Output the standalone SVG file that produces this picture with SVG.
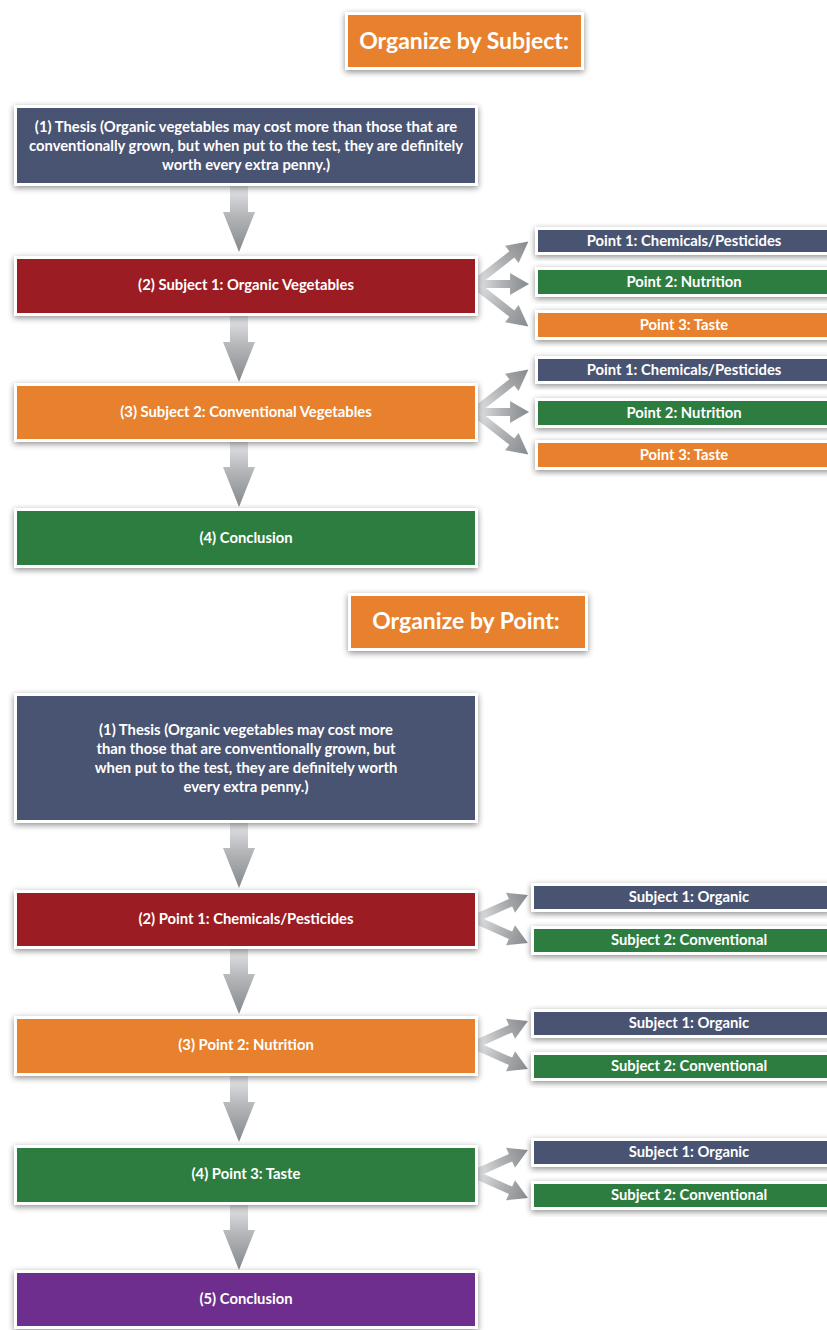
<svg xmlns="http://www.w3.org/2000/svg" width="827" height="1330" viewBox="0 0 827 1330">
<defs>
<filter id="sh" x="-10%" y="-30%" width="120%" height="160%">
<feGaussianBlur in="SourceAlpha" stdDeviation="3"/>
<feOffset dx="0" dy="2" result="b"/>
<feComponentTransfer><feFuncA type="linear" slope="0.45"/></feComponentTransfer>
<feMerge><feMergeNode/><feMergeNode in="SourceGraphic"/></feMerge>
</filter>
<linearGradient id="gv" x1="0" y1="0" x2="0" y2="1">
<stop offset="0" stop-color="#e4e5e7"/>
<stop offset="0.45" stop-color="#b4b6b9"/>
<stop offset="1" stop-color="#85888c"/>
</linearGradient>
<linearGradient id="gh" x1="0" y1="0" x2="1" y2="0">
<stop offset="0" stop-color="#e8e9ea"/>
<stop offset="0.5" stop-color="#b1b3b6"/>
<stop offset="1" stop-color="#86898d"/>
</linearGradient>
<path id="dn" d="M-9,0 H9 V26 H16 L0,66 L-16,26 H-9 Z"/>
</defs>
<style>
.box{stroke:#fff;stroke-width:3;filter:url(#sh)}
.navy{fill:#4a5272}.red{fill:#9b1b20}.org{fill:#e8812e}.grn{fill:#2d7d40}.pur{fill:#6e2d8d}
text{font-family:Lato,"Liberation Sans",sans-serif;font-weight:bold;fill:#fff;text-anchor:middle}
.t{font-size:14.8px}
.h{font-size:23px}
.arrv{fill:url(#gv)}
.arrh{fill:url(#gh)}
</style>

<g id="connectors">
<use href="#dn" class="arrv" x="239" y="186"/>
<use href="#dn" class="arrv" x="239" y="316"/>
<use href="#dn" class="arrv" x="239" y="441"/>
<use href="#dn" class="arrv" x="239" y="822"/>
<use href="#dn" class="arrv" x="239" y="948"/>
<use href="#dn" class="arrv" x="239" y="1076"/>
<use href="#dn" class="arrv" x="239" y="1204"/>
<path class="arrh" transform="translate(474,284) rotate(-38)" d="M0,-4 H48 V-11 L69,0 L48,11 V4 H0 Z"/>
<path class="arrh" transform="translate(474,284)" d="M0,-4 H36 V-11 L55,0 L36,11 V4 H0 Z"/>
<path class="arrh" transform="translate(474,284) rotate(38)" d="M0,-4 H48 V-11 L69,0 L48,11 V4 H0 Z"/>
<path class="arrh" transform="translate(474,412) rotate(-38)" d="M0,-4 H48 V-11 L69,0 L48,11 V4 H0 Z"/>
<path class="arrh" transform="translate(474,412)" d="M0,-4 H36 V-11 L55,0 L36,11 V4 H0 Z"/>
<path class="arrh" transform="translate(474,412) rotate(38)" d="M0,-4 H48 V-11 L69,0 L48,11 V4 H0 Z"/>
<path class="arrh" transform="translate(474,919) rotate(-24)" d="M0,-4 H40 V-11 L59,0 L40,11 V4 H0 Z"/>
<path class="arrh" transform="translate(474,919) rotate(24)" d="M0,-4 H40 V-11 L59,0 L40,11 V4 H0 Z"/>
<path class="arrh" transform="translate(474,1045) rotate(-24)" d="M0,-4 H40 V-11 L59,0 L40,11 V4 H0 Z"/>
<path class="arrh" transform="translate(474,1045) rotate(24)" d="M0,-4 H40 V-11 L59,0 L40,11 V4 H0 Z"/>
<path class="arrh" transform="translate(474,1174) rotate(-24)" d="M0,-4 H40 V-11 L59,0 L40,11 V4 H0 Z"/>
<path class="arrh" transform="translate(474,1174) rotate(24)" d="M0,-4 H40 V-11 L59,0 L40,11 V4 H0 Z"/>
</g>

<g id="title1"><rect class="box org" x="346.5" y="13.5" width="236" height="55"/><text class="h" x="464" y="49">Organize by Subject:</text></g>

<g id="thesis1"><rect class="box navy" x="15.5" y="106.5" width="461" height="78"/>
<text class="t" x="246" y="132">(1) Thesis (Organic vegetables may cost more than those that are</text>
<text class="t" x="246" y="151">conventionally grown, but when put to the test, they are definitely</text>
<text class="t" x="246" y="170">worth every extra penny.)</text></g>

<g id="subject1"><rect class="box red" x="15.5" y="257.5" width="461" height="57"/><text class="t" x="246" y="290">(2) Subject 1: Organic Vegetables</text></g>
<g id="s1p1"><rect class="box navy" x="536.5" y="228.5" width="300" height="25"/><text class="t" x="684" y="246">Point 1: Chemicals/Pesticides</text></g>
<g id="s1p2"><rect class="box grn" x="536.5" y="268.5" width="300" height="27"/><text class="t" x="684" y="287">Point 2: Nutrition</text></g>
<g id="s1p3"><rect class="box org" x="536.5" y="311.5" width="300" height="27"/><text class="t" x="684" y="330">Point 3: Taste</text></g>

<g id="subject2"><rect class="box org" x="15.5" y="384.5" width="461" height="56"/><text class="t" x="246" y="417">(3) Subject 2: Conventional Vegetables</text></g>
<g id="s2p1"><rect class="box navy" x="536.5" y="357.5" width="300" height="25"/><text class="t" x="684" y="375">Point 1: Chemicals/Pesticides</text></g>
<g id="s2p2"><rect class="box grn" x="536.5" y="399.5" width="300" height="27"/><text class="t" x="684" y="418">Point 2: Nutrition</text></g>
<g id="s2p3"><rect class="box org" x="536.5" y="441.5" width="300" height="27"/><text class="t" x="684" y="460">Point 3: Taste</text></g>

<g id="conclusion1"><rect class="box grn" x="15.5" y="509.5" width="461" height="57"/><text class="t" x="246" y="543">(4) Conclusion</text></g>

<g id="title2"><rect class="box org" x="349.5" y="594.5" width="237" height="55"/><text class="h" x="466" y="629">Organize by Point:</text></g>

<g id="thesis2"><rect class="box navy" x="15.5" y="694.5" width="461" height="127"/>
<text class="t" x="246" y="735">(1) Thesis (Organic vegetables may cost more</text>
<text class="t" x="246" y="754">than those that are conventionally grown, but</text>
<text class="t" x="246" y="773">when put to the test, they are definitely worth</text>
<text class="t" x="246" y="792">every extra penny.)</text></g>

<g id="point1"><rect class="box red" x="15.5" y="891.5" width="461" height="56"/><text class="t" x="246" y="924">(2) Point 1: Chemicals/Pesticides</text></g>
<g id="p1s1"><rect class="box navy" x="532.5" y="884.5" width="300" height="26"/><text class="t" x="689" y="902">Subject 1: Organic</text></g>
<g id="p1s2"><rect class="box grn" x="532.5" y="927.5" width="300" height="26"/><text class="t" x="689" y="945">Subject 2: Conventional</text></g>

<g id="point2"><rect class="box org" x="15.5" y="1017.5" width="461" height="57"/><text class="t" x="246" y="1050">(3) Point 2: Nutrition</text></g>
<g id="p2s1"><rect class="box navy" x="532.5" y="1010.5" width="300" height="26"/><text class="t" x="689" y="1028">Subject 1: Organic</text></g>
<g id="p2s2"><rect class="box grn" x="532.5" y="1053.5" width="300" height="26"/><text class="t" x="689" y="1071">Subject 2: Conventional</text></g>

<g id="point3"><rect class="box grn" x="15.5" y="1146.5" width="461" height="57"/><text class="t" x="246" y="1179">(4) Point 3: Taste</text></g>
<g id="p3s1"><rect class="box navy" x="532.5" y="1139.5" width="300" height="26"/><text class="t" x="689" y="1157">Subject 1: Organic</text></g>
<g id="p3s2"><rect class="box grn" x="532.5" y="1182.5" width="300" height="26"/><text class="t" x="689" y="1200">Subject 2: Conventional</text></g>

<g id="conclusion2"><rect class="box pur" x="15.5" y="1271.5" width="461" height="56"/><text class="t" x="246" y="1304">(5) Conclusion</text></g>
</svg>
